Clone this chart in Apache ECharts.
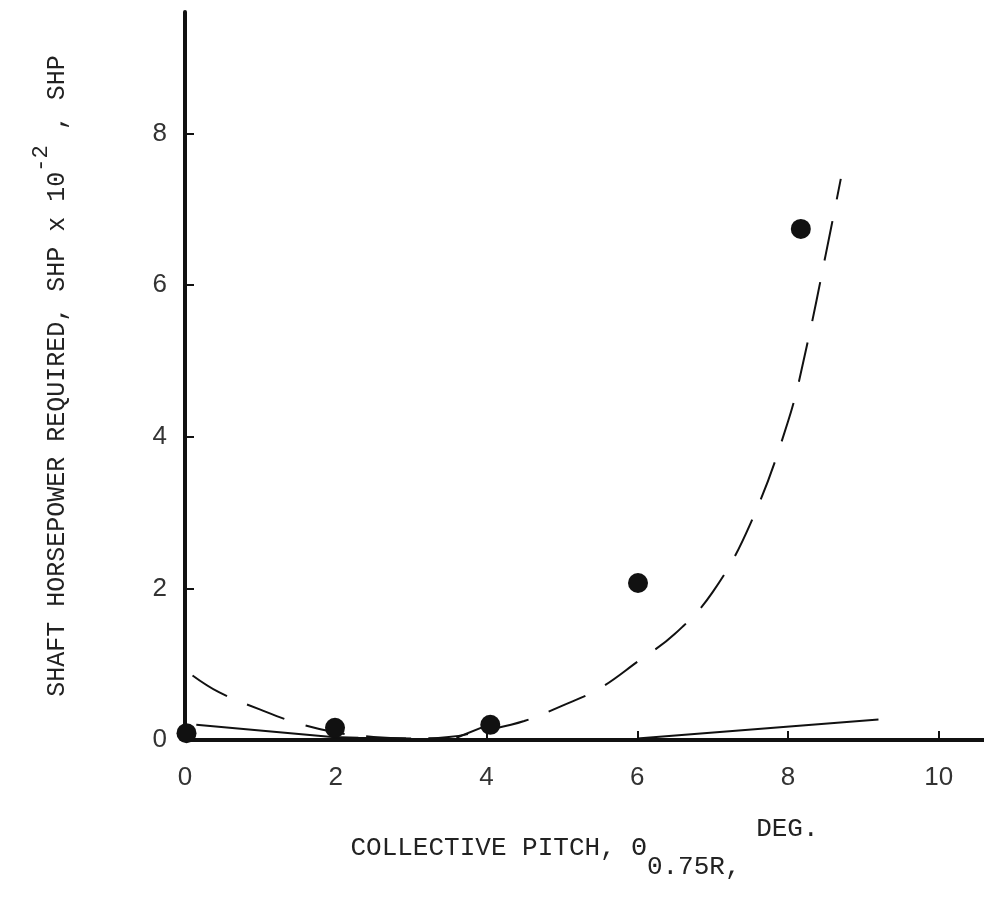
<!DOCTYPE html>
<html>
<head>
<meta charset="utf-8">
<script src="https://cdn.jsdelivr.net/npm/echarts@6/dist/echarts.min.js"></script>
<style>
html,body{margin:0;padding:0;background:#fff;}
#chart{width:984px;height:912px;}
</style>
</head>
<body>
<div id="chart"></div>
<script>
// measured test points
const pitchPts = [0.02, 1.99, 4.05, 6.01, 8.17];
const shpPts = [0.09, 0.16, 0.20, 2.07, 6.74];

// dashed faired curve
const curveX = [0.1, 0.45, 1.0, 1.5, 2.0, 2.5, 3.0, 3.5, 4.0, 4.5, 5.0, 5.5, 6.0, 6.5, 7.0, 7.5, 8.0, 8.25, 8.5, 8.7];
const curveY = [0.85, 0.63, 0.40, 0.22, 0.10, 0.04, 0.02, 0.04, 0.13, 0.25, 0.45, 0.68, 1.03, 1.40, 1.95, 2.85, 4.20, 5.20, 6.40, 7.40];

// solid calculated lines (null separates segments)
const solidX = [0.15, 1.95, 2.3, null, 2.3, 3.0, null, 3.6, 3.95, null, 6.0, 9.2];
const solidY = [0.20, 0.04, 0.03, null, 0.03, 0.02, null, 0.03, 0.17, null, 0.02, 0.27];

// tick labels
const xTicks = [0, 2, 4, 6, 8, 10];
const yTicks = [0, 2, 4, 6, 8];

const titleFont = 'Liberation Mono';
const labelFont = 'Liberation Sans';

const chart = echarts.init(document.getElementById('chart'), null, {renderer: 'canvas'});
const zip = (xs, ys) => xs.map((x, i) => [x, ys[i]]);

chart.setOption({
  backgroundColor: '#fff',
  animation: false,
  grid: {left: 185, right: 0, top: 12, bottom: 172, containLabel: false},
  xAxis: {
    type: 'value', min: 0, max: 10.6,
    splitLine: {show: false},
    axisLine: {show: true, onZero: false, lineStyle: {color: '#111', width: 4}},
    axisTick: {show: true, inside: true, length: 9, customValues: xTicks, lineStyle: {color: '#111', width: 2}},
    axisLabel: {customValues: xTicks, margin: 25, fontFamily: labelFont, fontSize: 26, color: '#333'},
    name: '{a|COLLECTIVE PITCH, Θ}{b|0.75R,}{c| DEG.}',
    nameLocation: 'middle', nameGap: 76,
    nameTextStyle: {
      rich: {
        a: {fontFamily: titleFont, fontSize: 26, color: '#222', lineHeight: 64, verticalAlign: 'middle'},
        b: {fontFamily: titleFont, fontSize: 26, color: '#222', lineHeight: 20, verticalAlign: 'bottom'},
        c: {fontFamily: titleFont, fontSize: 26, color: '#222', lineHeight: 20, verticalAlign: 'top'}
      }
    }
  },
  yAxis: {
    type: 'value', min: 0, max: 9.6,
    splitLine: {show: false},
    axisLine: {show: true, onZero: false, lineStyle: {color: '#111', width: 4}},
    axisTick: {show: true, inside: true, length: 9, customValues: yTicks, lineStyle: {color: '#111', width: 2}},
    axisLabel: {customValues: yTicks, margin: 18, fontFamily: labelFont, fontSize: 26, color: '#333'},
    name: '{a|SHAFT HORSEPOWER REQUIRED, SHP x 10}{s|-2}{a| , SHP}',
    nameLocation: 'middle', nameGap: 101, nameRotate: 90,
    nameTextStyle: {
      rich: {
        a: {fontFamily: titleFont, fontSize: 25, color: '#222', lineHeight: 54, verticalAlign: 'middle'},
        s: {fontFamily: titleFont, fontSize: 22, color: '#222', lineHeight: 20, verticalAlign: 'top'}
      }
    }
  },
  series: [
    {
      type: 'line', data: zip(curveX, curveY), smooth: 0.4, showSymbol: false,
      lineStyle: {color: '#111', width: 2, type: [40, 22]}, z: 2
    },
    {
      type: 'line', data: zip(solidX, solidY), connectNulls: false, showSymbol: false,
      lineStyle: {color: '#111', width: 2}, z: 2
    },
    {
      type: 'scatter', data: zip(pitchPts, shpPts), symbol: 'circle', symbolSize: 20,
      itemStyle: {color: '#111', opacity: 1}, z: 3
    }
  ]
});
</script>
</body>
</html>
